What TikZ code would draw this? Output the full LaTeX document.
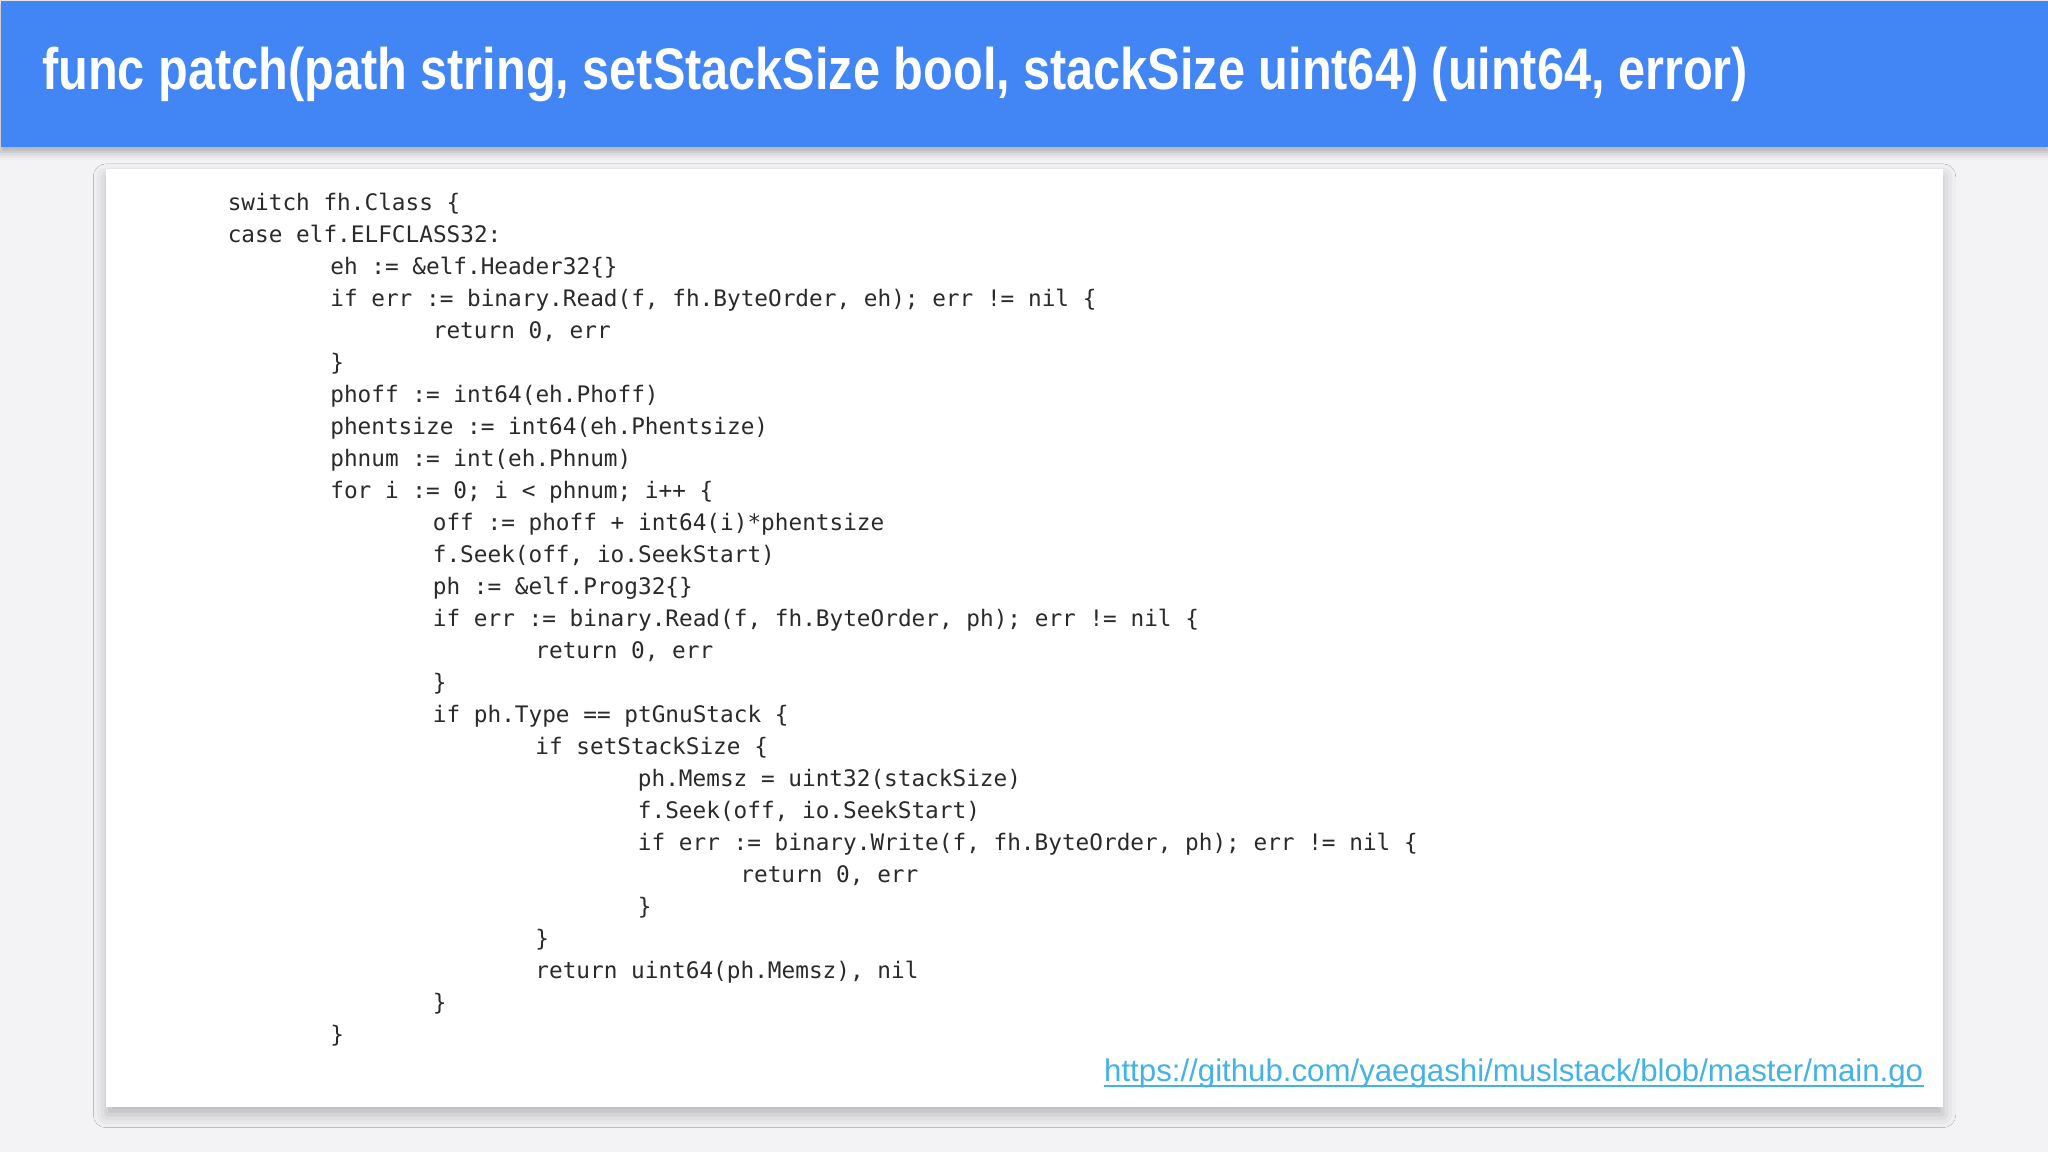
\documentclass[tikz,border=0pt]{standalone}
\usepackage{fontspec}
\usepackage{graphicx}
\setmainfont{Liberation Sans}
\newfontfamily\codefont{DejaVu Sans Mono}
\usetikzlibrary{shadows.blur}
\definecolor{hdr}{HTML}{4285F4}
\definecolor{bgc}{HTML}{F3F3F5}
\definecolor{codec}{HTML}{2A2A2A}
\definecolor{linkc}{HTML}{45B2E6}
\tikzset{
  codeline/.style={anchor=base west,inner sep=0pt,font=\codefont\fontsize{8.7pt}{10pt}\selectfont,text=codec},
}
\newcommand{\cl}[3]{\node[codeline] (l#2) at ({87pt+#1*39.25pt},{-80.5pt-(#2-1)*12.25pt}) {#3};}
\begin{document}
\begin{tikzpicture}[x=1pt,y=1pt]
\useasboundingbox (0,0) rectangle (784,-441);
\fill[bgc] (0,0) rectangle (784,-441);
\node[fill=white,minimum width=703pt,minimum height=359pt,anchor=north west,inner sep=0pt,
  blur shadow={shadow xshift=0pt,shadow yshift=-3pt,shadow blur radius=5pt,shadow opacity=25}] (card) at (40.5,-64.5) {};
\node[fill=hdr,minimum width=784pt,minimum height=56pt,anchor=north west,inner sep=0pt,
  blur shadow={shadow xshift=0pt,shadow yshift=-2pt,shadow blur radius=3pt,shadow opacity=30}] (header) at (0,0) {};
\node[anchor=north west,inner sep=0pt,text=white] (title) at (16,-18)
  {\resizebox*{653pt}{21pt}{\bfseries func patch(path string, setStackSize bool, stackSize uint64) (uint64, error)}};
\cl{0}{1}{switch fh.Class \{}
\cl{0}{2}{case elf.ELFCLASS32:}
\cl{1}{3}{eh := \&elf.Header32\{\}}
\cl{1}{4}{if err := binary.Read(f, fh.ByteOrder, eh); err != nil \{}
\cl{2}{5}{return 0, err}
\cl{1}{6}{\}}
\cl{1}{7}{phoff := int64(eh.Phoff)}
\cl{1}{8}{phentsize := int64(eh.Phentsize)}
\cl{1}{9}{phnum := int(eh.Phnum)}
\cl{1}{10}{for i := 0; i < phnum; i++ \{}
\cl{2}{11}{off := phoff + int64(i)*phentsize}
\cl{2}{12}{f.Seek(off, io.SeekStart)}
\cl{2}{13}{ph := \&elf.Prog32\{\}}
\cl{2}{14}{if err := binary.Read(f, fh.ByteOrder, ph); err != nil \{}
\cl{3}{15}{return 0, err}
\cl{2}{16}{\}}
\cl{2}{17}{if ph.Type == ptGnuStack \{}
\cl{3}{18}{if setStackSize \{}
\cl{4}{19}{ph.Memsz = uint32(stackSize)}
\cl{4}{20}{f.Seek(off, io.SeekStart)}
\cl{4}{21}{if err := binary.Write(f, fh.ByteOrder, ph); err != nil \{}
\cl{5}{22}{return 0, err}
\cl{4}{23}{\}}
\cl{3}{24}{\}}
\cl{3}{25}{return uint64(ph.Memsz), nil}
\cl{2}{26}{\}}
\cl{1}{27}{\}}
\node[anchor=base west,inner sep=0pt,text=linkc] (link) at (422.5,-414)
  {\resizebox{313.5pt}{!}{https://github.com/yaegashi/muslstack/blob/master/main.go}};
\draw[linkc,line width=0.8pt] ([yshift=-1.6pt]link.base west) -- ([yshift=-1.6pt]link.base east);
\end{tikzpicture}
\end{document}
